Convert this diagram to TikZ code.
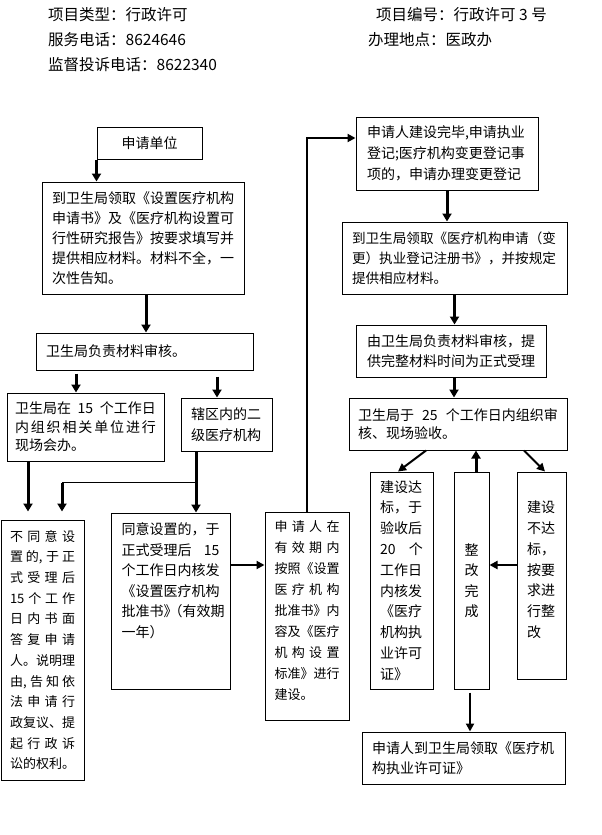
\documentclass[tikz,border=0pt]{standalone}
\usepackage{fontspec}
\setmainfont{Noto Sans CJK SC}
\usetikzlibrary{arrows.meta}
\newcommand\sprd[2]{\makebox[#1][s]{\spaceskip=0pt plus 1fil\xspaceskip=0pt plus 1fil\relax #2}}
\begin{document}
\begin{tikzpicture}[x=1pt,y=-1pt,
  box/.style={draw, line width=1pt, inner ysep=0pt, inner xsep=10pt, align=left,
    font=\fontsize{14pt}{20.5pt}\selectfont},
  arr/.style={line width=3pt, -{Triangle[width=9pt,length=8pt]}},
  arrm/.style={line width=2pt, -{Triangle[width=8pt,length=8pt]}},
  link/.style={line width=1.5pt},
  hdr/.style={anchor=west, inner sep=0pt, font=\fontsize{15.5pt}{18pt}\selectfont}]
\useasboundingbox (0,0) rectangle (602,835);

% header
\node[hdr] (h1) at (48,15) {项目类型：行政许可};
\node[hdr] (h2) at (48,39.5) {服务电话：8624646};
\node[hdr] (h3) at (48,65) {监督投诉电话：8622340};
\node[hdr] (h4) at (376,15) {项目编号：行政许可 3 号};
\node[hdr] (h5) at (368,39.5) {办理地点：医政办};

% boxes
\node[box, align=center, text width=85pt, minimum height=32pt] (b1) at (149.5,143) {申请单位};
\node[box, text width=182pt, minimum height=112pt, font=\fontsize{14pt}{20pt}\selectfont] (b2) at (143,238)
  {到卫生局领取《设置医疗机构\\申请书》及《医疗机构设置可\\行性研究报告》按要求填写并\\提供相应材料。材料不全，一\\次性告知。};
\node[box, text width=197pt, minimum height=37pt] (b3) at (144.5,351.5) {卫生局负责材料审核。};
\node[box, inner xsep=8pt, text width=141pt, minimum height=68pt, font=\fontsize{14pt}{18.5pt}\selectfont] (b4) at (85.5,427)
  {\sprd{141pt}{卫生局在 15 个工作日}\\\sprd{141pt}{内 组 织 相 关 单 位 进 行}\\现场会办。};
\node[box, text width=71pt, minimum height=53pt] (b5) at (226.5,424.5) {辖区内的二\\级医疗机构};
\node[box, inner xsep=9pt, text width=65pt, minimum height=260pt, font=\fontsize{13pt}{20.7pt}\selectfont] (b6) at (42.5,650)
  {\sprd{65pt}{不 同 意 设}\\\sprd{65pt}{置 的, 于 正}\\\sprd{65pt}{式 受 理 后}\\\sprd{65pt}{15 个 工 作}\\\sprd{65pt}{日 内 书 面}\\\sprd{65pt}{答 复 申 请}\\\sprd{65pt}{人。说 明 理}\\\sprd{65pt}{由, 告 知 依}\\\sprd{65pt}{法 申 请 行}\\\sprd{65pt}{政 复 议、提}\\\sprd{65pt}{起 行 政 诉}\\\sprd{65pt}{讼 的 权 利。}};
\node[box, inner xsep=10.5pt, text width=98pt, minimum height=176pt] (b7) at (170.5,601)
  {\parbox[t][156pt][t]{98pt}{同意设置的，于\\\sprd{98pt}{正式受理后 15}\\个工作日内核发\\《设置医疗机构\\批准书》\kern-9pt（有效期\\一年）}};
\node[box, inner xsep=9.5pt, text width=65pt, minimum height=208pt, font=\fontsize{13pt}{20.9pt}\selectfont] (b8) at (307,616)
  {\parbox[t][190pt][t]{65pt}{\sprd{65pt}{申 请 人 在}\\\sprd{65pt}{有 效 期 内}\\\sprd{65pt}{按 照《设 置}\\\sprd{65pt}{医 疗 机 构}\\\sprd{65pt}{批 准 书》内}\\\sprd{65pt}{容 及《医 疗}\\\sprd{65pt}{机 构 设 置}\\\sprd{65pt}{标 准》进 行}\\建设。}};
\node[box, inner xsep=11pt, text width=160pt, minimum height=73pt, font=\fontsize{14pt}{21pt}\selectfont] (b9) at (447,153.5)
  {申请人建设完毕,申请执业\\登记;医疗机构变更登记事\\项的，申请办理变更登记};
\node[box, text width=205pt, minimum height=72pt, font=\fontsize{13.6pt}{20pt}\selectfont] (b10) at (454.5,258)
  {到卫生局领取《医疗机构申请（变\\更）执业登记注册书》，并按规定\\提供相应材料。};
\node[box, inner xsep=11pt, text width=168pt, minimum height=52pt, font=\fontsize{14pt}{20pt}\selectfont] (b11) at (451,351)
  {由卫生局负责材料审核，提\\供完整材料时间为正式受理};
\node[box, inner xsep=9pt, text width=200pt, minimum height=52pt, font=\fontsize{14pt}{18.5pt}\selectfont] (b12) at (458,424)
  {\sprd{200pt}{卫生局于 25 个工作日内组织审}\\核、现场验收。};
\node[box, text width=43pt, minimum height=217pt, font=\fontsize{14pt}{20.8pt}\selectfont] (b13) at (401.5,580.5)
  {建设达\\标，于\\验收后\\\sprd{43pt}{20 个}\\工作日\\内核发\\《医疗\\机构执\\业许可\\证》};
\node[box, align=center, inner xsep=0pt, text width=35pt, minimum height=217pt] (b14) at (471.5,580.5) {整\\改\\完\\成};
\node[box, text width=29pt, minimum height=207pt, font=\fontsize{14pt}{20.8pt}\selectfont] (b15) at (541.5,575.5)
  {\parbox[t][149pt][t]{29pt}{建设\\不达\\标，\\按要\\求进\\行整\\改}};
\node[box, text width=183pt, minimum height=52pt, font=\fontsize{14pt}{20pt}\selectfont] (b16) at (463.5,758)
  {申请人到卫生局领取《医疗机\\构执业许可证》};

% connectors
\draw[arr] (b1.south west) -- (b1.south west |- b2.north);
\coordinate (s2) at ([xshift=3pt]b2.south);
\draw[arr] (s2) -- (s2 |- b3.north);
\coordinate (s3a) at ([xshift=-68.5pt,yshift=-3pt]b3.south);
\draw[arr] (s3a) -- (s3a |- b4.north);
\coordinate (s3b) at ([xshift=72.5pt,yshift=-6pt]b3.south);
\draw[arr] (s3b) -- (s3b |- b5.north);
\coordinate (s4) at ([xshift=-57.5pt]b4.south);
\coordinate (e6) at ([yshift=8pt]b6.north);
\draw[arr] (s4) -- (s4 |- e6);
\coordinate (s5) at ([xshift=-30.5pt]b5.south);
\draw[arr] (s5) -- (s5 |- b7.north);
\coordinate (j1) at ([yshift=-31pt]s5);
\coordinate (j2) at ([xshift=-134pt]j1);
\draw[link] (j1) -- (j2);
\draw[arr] (j2) -- (j2 |- e6);
\coordinate (s7) at ([yshift=36pt]b7.east);
\draw[arrm] (s7) -- (s7 -| b8.west);
\coordinate (e9) at ([yshift=15.5pt]b9.west);
\draw[arrm] (b8.north) |- (e9);
\draw[arr] (b9.south) -- (b9.south |- b10.north);
\draw[arr] (b10.south) -- (b10.south |- b11.north);
\coordinate (s11) at ([xshift=3pt]b11.south);
\draw[arr] (s11) -- (s11 |- b12.north);
\draw[arrm] ([xshift=-32pt]b12.south) -- ([xshift=-3.5pt]b13.north);
\draw[arrm] ([xshift=66pt]b12.south) -- ([xshift=3.5pt]b15.north);
\coordinate (s14) at ([xshift=4.5pt]b14.north);
\draw[arr] (s14) -- (s14 |- b12.south);
\coordinate (s15) at ([yshift=10.5pt]b15.west);
\draw[line width=2.5pt, -{Triangle[width=8pt,length=8pt]}] (s15) -- (s15 -| b14.east);
\coordinate (s14b) at ([xshift=-1.5pt,yshift=-3pt]b14.south);
\draw[arrm] (s14b) -- (s14b |- b16.north);
\end{tikzpicture}
\end{document}
